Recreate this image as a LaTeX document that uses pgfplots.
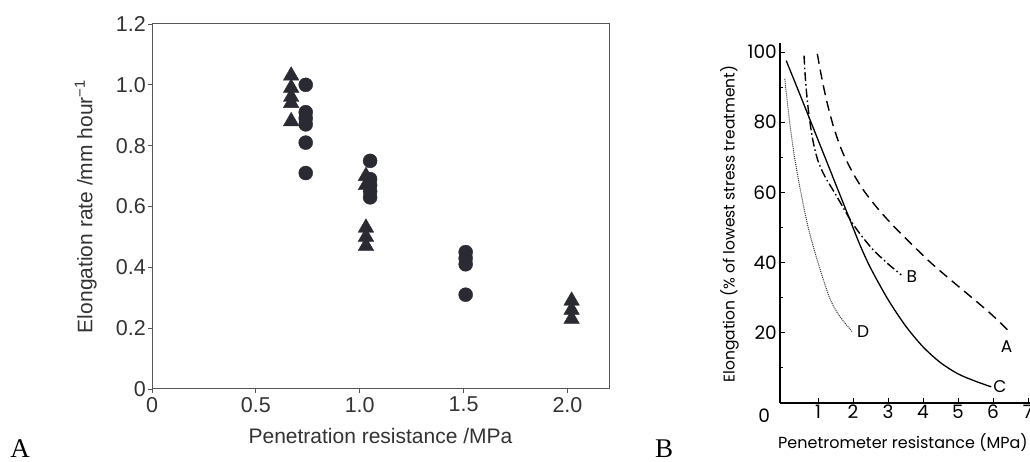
\documentclass[border=0pt]{standalone}
\usepackage{fontspec}
\setmainfont{Liberation Sans}
\newfontfamily\pop{Poppins}
\newfontfamily\ser{Liberation Serif}
\usepackage{pgfplots}
\pgfplotsset{compat=1.18}
\definecolor{mk}{HTML}{2A2A33}
\definecolor{tx}{HTML}{333333}
\definecolor{ax}{HTML}{555555}
\begin{document}
\begin{tikzpicture}[x=1pt,y=1pt]
\useasboundingbox (0,0) rectangle (1030,462);
% ---------------- Panel A ----------------
\begin{axis}[
 at={(152pt,73pt)}, anchor=south west, scale only axis,
 width=457pt, height=365pt,
 xmin=0, xmax=2.2, ymin=0, ymax=1.2,
 xtick={0,0.5,1,1.5,2}, xticklabels={0,0.5,1.0,1.5,2.0},
 ytick={0,0.2,0.4,0.6,0.8,1.0,1.2}, yticklabels={0,0.2,0.4,0.6,0.8,1.0,1.2},
 tick align=outside, xtick pos=bottom, ytick pos=left, major tick length=4pt,
 axis line style={ax, line width=1pt}, tick style={ax, line width=0.8pt},
 ticklabel style={font=\fontsize{21.5}{23}\selectfont, text=tx},
 xticklabel style={inner sep=1pt, yshift=-3pt},
 yticklabel style={inner sep=2pt},
 /pgf/number format/assume math mode=true,
 xlabel={Penetration resistance /MPa},
 ylabel={Elongation rate /mm hour\textsuperscript{−1}},
 label style={font=\fontsize{21}{24}\selectfont, text=tx},
 xlabel style={at={(axis description cs:0.5,-0.129)}, anchor=center},
 ylabel style={at={(axis description cs:-0.145,0.5)}, anchor=center},
 clip=false,
]
\addplot[only marks, mark=triangle*, mark size=9pt, mk, mark options={fill=mk, draw=mk}] coordinates {
 (0.67,1.03) (0.67,0.99) (0.67,0.96) (0.67,0.94) (0.67,0.88)
 (1.03,0.70) (1.03,0.67) (1.03,0.53) (1.03,0.50) (1.03,0.47)
 (2.02,0.29) (2.02,0.26) (2.02,0.23)
};
\addplot[only marks, mark=*, mark size=7pt, mk, mark options={fill=mk, draw=mk}] coordinates {
 (0.74,1.00) (0.74,0.91) (0.74,0.89) (0.74,0.87) (0.74,0.81) (0.74,0.71)
 (1.05,0.75) (1.05,0.69) (1.05,0.67) (1.05,0.65) (1.05,0.63)
 (1.51,0.45) (1.51,0.43) (1.51,0.41) (1.51,0.31)
};
\end{axis}
% ---------------- Panel B ----------------
\begin{axis}[
 at={(780pt,59pt)}, anchor=south west, scale only axis,
 width=265.5pt, height=360pt,
 xmin=-0.086, xmax=7.5, ymin=0, ymax=102.6,
 axis x line=bottom, axis y line=left,
 axis line style={-, black, line width=1.6pt},
 xtick={1,2,3,4,5,6,7}, ytick={20,40,60,80,100},
 minor ytick={10,30,50,70,90},
 tick align=inside, major tick length=5pt, minor tick length=3pt,
 tick style={black, line width=1pt},
 ticklabel style={font=\pop\fontsize{18.5}{20}\selectfont},
 xticklabel style={inner sep=2pt},
 yticklabel style={inner sep=3pt},
 /pgf/number format/assume math mode=true,
 xlabel={Penetrometer resistance (MPa)},
 ylabel={Elongation (\% of lowest stress treatment)},
 xlabel style={font=\pop\fontsize{16}{18}\selectfont, at={(axis description cs:0.463,-0.111)}, anchor=center},
 ylabel style={font=\pop\fontsize{15.5}{17}\selectfont, at={(axis description cs:-0.19,0.497)}, anchor=center},
 clip=false,
]
% A dashed
\addplot[smooth, black, line width=1.4pt, dash pattern=on 10pt off 6pt] coordinates {
 (0.98,99.5) (1.1,93) (1.25,86) (1.45,78.5) (1.7,71.5) (2.0,65.5) (2.31,60.5)
 (2.7,55.5) (3.15,50.5) (3.7,45) (4.22,40) (4.8,35) (5.4,30) (5.95,25.3) (6.42,20.8)
};
% B dash-dot
\addplot[smooth, black, line width=1.4pt, dash pattern=on 9pt off 3pt on 1.5pt off 3pt] coordinates {
 (0.6,99) (0.65,91) (0.73,83) (0.85,75) (1.0,69) (1.2,64.5) (1.5,59.5)
 (2.0,51) (2.5,44.5) (2.96,40) (3.38,36.5)
};
% C solid
\addplot[smooth, black, line width=1.3pt] coordinates {
 (0.09,97.6) (0.5,87.5) (1.0,75) (1.5,62.5) (1.8,55) (2.0,50) (2.2,45)
 (2.5,38.5) (3.0,29.5) (3.5,22) (4.0,16) (4.5,11.5) (5.0,8.3) (5.5,6.2) (5.95,4.6)
};
% D dotted
\addplot[smooth, black!80, line width=1pt, dash pattern=on 1pt off 1pt] coordinates {
 (0.05,92.4) (0.19,80) (0.33,70) (0.51,60) (0.72,50) (1.0,40) (1.33,30)
 (1.6,25) (1.98,20.3)
};
\node[font=\pop\fontsize{17}{19}\selectfont] at (axis cs:6.39,16.0) {A};
\node[font=\pop\fontsize{17}{19}\selectfont] at (axis cs:3.68,36.0) {B};
\node[font=\pop\fontsize{17}{19}\selectfont] at (axis cs:6.2,4.6) {C};
\node[font=\pop\fontsize{17}{19}\selectfont] at (axis cs:2.29,20.3) {D};
\node[font=\pop\fontsize{18.5}{20}\selectfont] at (axis cs:-0.54,-3.7) {0};
\end{axis}
\node[font=\ser\fontsize{27}{30}\selectfont, inner sep=0pt, anchor=base] at (20,4) {A};
\node[font=\ser\fontsize{27}{30}\selectfont, inner sep=0pt, anchor=base] at (664,4) {B};
\end{tikzpicture}
\end{document}
